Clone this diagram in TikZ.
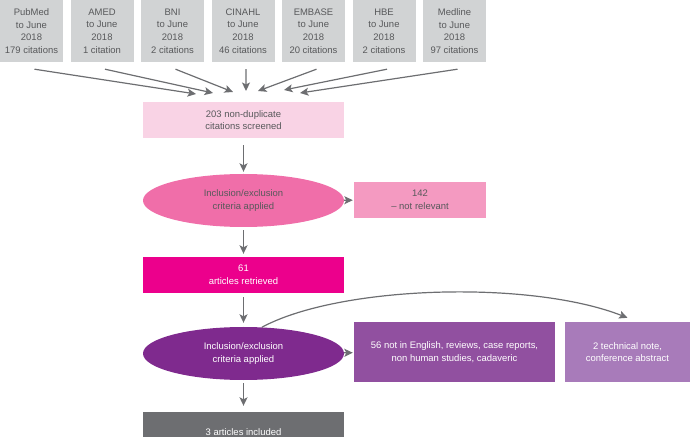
\documentclass[tikz,border=0pt]{standalone}
\usepackage{fontspec}
\setmainfont{Liberation Sans}
\usetikzlibrary{arrows.meta,shapes.geometric}

\definecolor{dbgrey}{HTML}{D1D3D4}
\definecolor{txtgrey}{HTML}{58595B}
\definecolor{linegrey}{HTML}{6D6E71}
\definecolor{screenpink}{HTML}{F9D3E5}
\definecolor{critpink}{HTML}{F06EA9}
\definecolor{irrelpink}{HTML}{F49AC1}
\definecolor{retrmagenta}{HTML}{EC008C}
\definecolor{critpurple}{HTML}{7F2A8E}
\definecolor{exclpurple}{HTML}{9150A0}
\definecolor{techpurple}{HTML}{A87BBA}

\begin{document}
\begin{tikzpicture}[x=1bp,y=-1bp,
	font=\fontsize{9.5}{12.6}\selectfont,
	arr/.style={draw=linegrey, line width=1.2bp, -{Stealth[length=8.5bp,width=8bp,inset=2bp]}},
	dbbox/.style={fill=dbgrey, text=txtgrey, minimum width=63bp, minimum height=62bp, inner sep=0pt, align=center},
	stagebox/.style={minimum width=201bp, minimum height=36bp, inner sep=0pt, align=center},
	critell/.style={ellipse, minimum width=201bp, minimum height=53bp, inner sep=0pt, align=center}]
		\useasboundingbox (0,0) rectangle (690,437);
		% databases
		\foreach \nm/\db/\cnt [count=\i from 0] in {pubmed/PubMed/179 citations, amed/AMED/1 citation, bni/BNI/2 citations, cinahl/CINAHL/46 citations, embase/EMBASE/20 citations, hbe/HBE/2 citations, medline/Medline/97 citations}
			\node[dbbox] (\nm) at ({31.5+70.5*\i},31) {\db\\to June\\2018\\\cnt};
		% flow
		\node[stagebox, fill=screenpink, text=txtgrey] (screened) at (243.5,120) {203 non-duplicate\\citations screened};
		\node[critell, fill=critpink, text=txtgrey] (crit1) at (243.5,200.5) {Inclusion/exclusion\\criteria applied};
		\node[stagebox, fill=irrelpink, text=txtgrey, minimum width=132bp] (irrel) at (420,200) {142\\– not relevant};
		\node[stagebox, fill=retrmagenta, text=white] (retrieved) at (243.5,275) {61\\articles retrieved};
		\node[critell, fill=critpurple, text=white] (crit2) at (243.5,353.5) {Inclusion/exclusion\\criteria applied};
		\node[stagebox, fill=exclpurple, text=white, minimum height=60bp] (excl) at (454.5,352) {56 not in English, reviews, case reports,\\non human studies, cadaveric};
		\node[stagebox, fill=techpurple, text=white, minimum width=125bp, minimum height=60bp] (tech) at (627.5,352) {2 technical note,\\conference abstract};
		\node[stagebox, fill=linegrey, text=white, minimum height=40bp] (included) at (243.5,432) {3 articles included};
		% database arrows
		\foreach \nm/\ex/\ey in {pubmed/196/94, amed/213/93, bni/233/92, cinahl/246/91, embase/258/91, hbe/284/90, medline/300/93}{
			\coordinate (in-\nm) at (\ex,\ey);
			\draw[arr] ([xshift=3bp,yshift=-7bp]\nm.south) -- (in-\nm);
		}
		\draw[arr, shorten <=7bp, shorten >=2bp] (screened) -- (crit1);
		\draw[arr, shorten >=1bp] (crit1) -- (irrel);
		\draw[arr, shorten <=3bp, shorten >=3bp] (crit1) -- (retrieved);
		\draw[arr, shorten <=4bp, shorten >=4bp] (retrieved) -- (crit2);
		\draw[arr, shorten >=1bp] (crit2) -- (excl);
		\draw[arr] (crit2.55) .. controls +(78,-42) and +(-97,-38) .. ([yshift=4bp]tech.north);
		\draw[arr, shorten <=3bp, shorten >=6bp] (crit2) -- (included);
\end{tikzpicture}
\end{document}
